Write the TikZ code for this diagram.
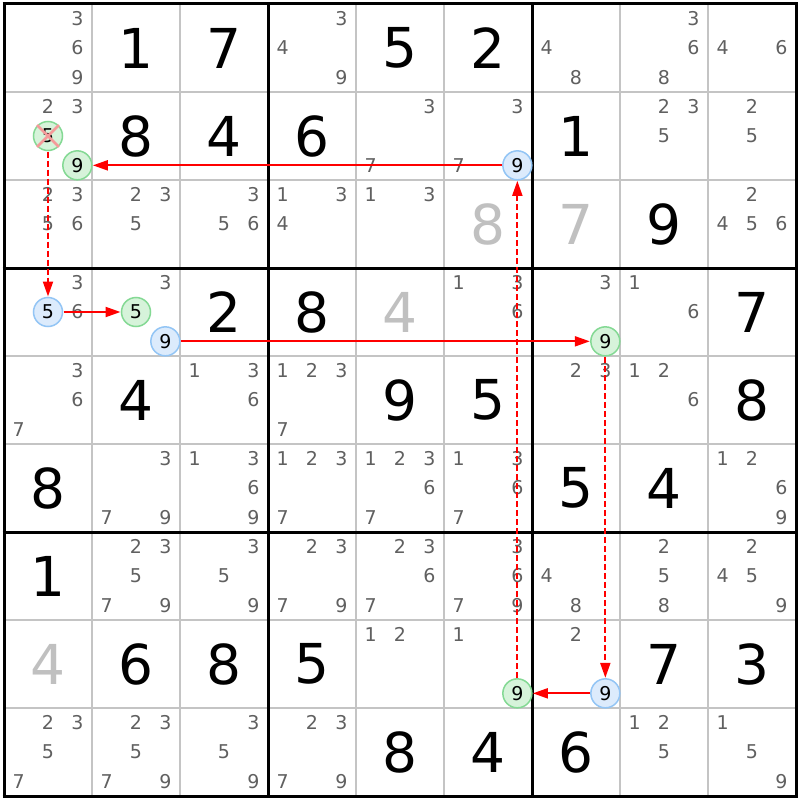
\documentclass[tikz,border=0pt]{standalone}
\usepackage{fontspec}
\setmainfont{DejaVu Sans}
\usetikzlibrary{arrows.meta}
\definecolor{candgray}{HTML}{606060}
\definecolor{givengray}{HTML}{C0C0C0}
\definecolor{thingrid}{HTML}{C4C4C4}
\definecolor{bfill}{HTML}{DCEBFC}
\definecolor{bdraw}{HTML}{93C5F5}
\definecolor{gfill}{HTML}{D6F3DA}
\definecolor{gdraw}{HTML}{84D994}
\definecolor{linkred}{RGB}{255,0,0}
\definecolor{xpink}{HTML}{F49A9A}
\tikzset{
  cand/.style={inner sep=0pt, text=candgray, font=\fontsize{19}{19}\selectfont},
  giv/.style={inner sep=0pt, font=\fontsize{55}{55}\selectfont},
  hlbase/.style={circle, minimum size=29pt, inner sep=0pt, outer sep=1pt, line width=1.5pt, text=black, font=\fontsize{19}{19}\selectfont},
  bluec/.style={hlbase, fill=bfill, draw=bdraw},
  greenc/.style={hlbase, fill=gfill, draw=gdraw},
  strong/.style={draw=linkred, line width=2pt, -{Triangle[length=15pt,width=10pt,fill=linkred]}},
  weak/.style={strong, dash pattern=on 6pt off 3pt},
  xmark/.style={draw=xpink, line width=2.5pt},
  thinline/.style={draw=thingrid, line width=1.2pt},
  thickline/.style={draw=black, line width=3pt}
}
\newcommand\candpos[3]{%
  \pgfmathsetmacro\cx{4+88*(#2-1)+88*(2*mod(#3-1,3)+1)/6}%
  \pgfmathsetmacro\cy{4+88*(#1-1)+88*(2*floor((#3-1)/3)+1)/6}}
\newcommand\cands[3]{\foreach \k in {#3}{\candpos{#1}{#2}{\k}\node[cand] (n#1#2\k) at (\cx,\cy) {\k};}}
\newcommand\given[4][black]{\node[giv,text=#1] (g#2#3) at ({4+88*(#3-1)+44},{4+88*(#2-1)+44}) {#4};}
\newcommand\hl[5]{\candpos{#3}{#4}{#5}\node[#1] (#2) at (\cx,\cy) {#5};}
\begin{document}
\begin{tikzpicture}[x=1pt,y=-1pt]
\useasboundingbox (0,0) rectangle (800,800);
\fill[white] (0,0) rectangle (800,800);
% thin grid
\foreach \i in {1,2,4,5,7,8}{
  \draw[thinline] ({4+88*\i},4) -- ({4+88*\i},796);
  \draw[thinline] (4,{4+88*\i}) -- (796,{4+88*\i});
}
\foreach \i in {0,3,6,9}{
  \draw[thickline] ({4+88*\i},2.5) -- ({4+88*\i},797.5);
  \draw[thickline] (2.5,{4+88*\i}) -- (797.5,{4+88*\i});
}
% row 1
\cands{1}{1}{3,6,9} \given{1}{2}{1} \given{1}{3}{7} \cands{1}{4}{3,4,9} \given{1}{5}{5} \given{1}{6}{2} \cands{1}{7}{4,8} \cands{1}{8}{3,6,8} \cands{1}{9}{4,6}
% row 2
\cands{2}{1}{2,3} \given{2}{2}{8} \given{2}{3}{4} \given{2}{4}{6} \cands{2}{5}{3,7} \cands{2}{6}{3,7} \given{2}{7}{1} \cands{2}{8}{2,3,5} \cands{2}{9}{2,5}
% row 3
\cands{3}{1}{2,3,5,6} \cands{3}{2}{2,3,5} \cands{3}{3}{3,5,6} \cands{3}{4}{1,3,4} \cands{3}{5}{1,3} \given[givengray]{3}{6}{8} \given[givengray]{3}{7}{7} \given{3}{8}{9} \cands{3}{9}{2,4,5,6}
% row 4
\cands{4}{1}{3,6} \cands{4}{2}{3} \given{4}{3}{2} \given{4}{4}{8} \given[givengray]{4}{5}{4} \cands{4}{6}{1,3,6} \cands{4}{7}{3} \cands{4}{8}{1,6} \given{4}{9}{7}
% row 5
\cands{5}{1}{3,6,7} \given{5}{2}{4} \cands{5}{3}{1,3,6} \cands{5}{4}{1,2,3,7} \given{5}{5}{9} \given{5}{6}{5} \cands{5}{7}{2,3} \cands{5}{8}{1,2,6} \given{5}{9}{8}
% row 6
\given{6}{1}{8} \cands{6}{2}{3,7,9} \cands{6}{3}{1,3,6,9} \cands{6}{4}{1,2,3,7} \cands{6}{5}{1,2,3,6,7} \cands{6}{6}{1,3,6,7} \given{6}{7}{5} \given{6}{8}{4} \cands{6}{9}{1,2,6,9}
% row 7
\given{7}{1}{1} \cands{7}{2}{2,3,5,7,9} \cands{7}{3}{3,5,9} \cands{7}{4}{2,3,7,9} \cands{7}{5}{2,3,6,7} \cands{7}{6}{3,6,7,9} \cands{7}{7}{4,8} \cands{7}{8}{2,5,8} \cands{7}{9}{2,4,5,9}
% row 8
\given[givengray]{8}{1}{4} \given{8}{2}{6} \given{8}{3}{8} \given{8}{4}{5} \cands{8}{5}{1,2} \cands{8}{6}{1} \cands{8}{7}{2} \given{8}{8}{7} \given{8}{9}{3}
% row 9
\cands{9}{1}{2,3,5,7} \cands{9}{2}{2,3,5,7,9} \cands{9}{3}{3,5,9} \cands{9}{4}{2,3,7,9} \given{9}{5}{8} \given{9}{6}{4} \given{9}{7}{6} \cands{9}{8}{1,2,5} \cands{9}{9}{1,5,9}
% highlighted candidates
\hl{bluec}{la}{2}{6}{9}
\hl{greenc}{lb}{2}{1}{9}
\hl{greenc}{lc}{2}{1}{5}
\hl{bluec}{ld}{4}{1}{5}
\hl{greenc}{le}{4}{2}{5}
\hl{bluec}{lf}{4}{2}{9}
\hl{greenc}{lg}{4}{7}{9}
\hl{bluec}{lh}{8}{7}{9}
\hl{greenc}{li}{8}{6}{9}
% elimination mark
\draw[xmark] (lc.north west) -- (lc.south east);
\draw[xmark] (lc.north east) -- (lc.south west);
% links
\draw[strong] (la) -- (lb);
\draw[weak] (lc) -- (ld);
\draw[strong] (ld) -- (le);
\draw[strong] (lf) -- (lg);
\draw[weak] (lg) -- (lh);
\draw[strong] (lh) -- (li);
\draw[weak] (li) -- (la);
\end{tikzpicture}
\end{document}
